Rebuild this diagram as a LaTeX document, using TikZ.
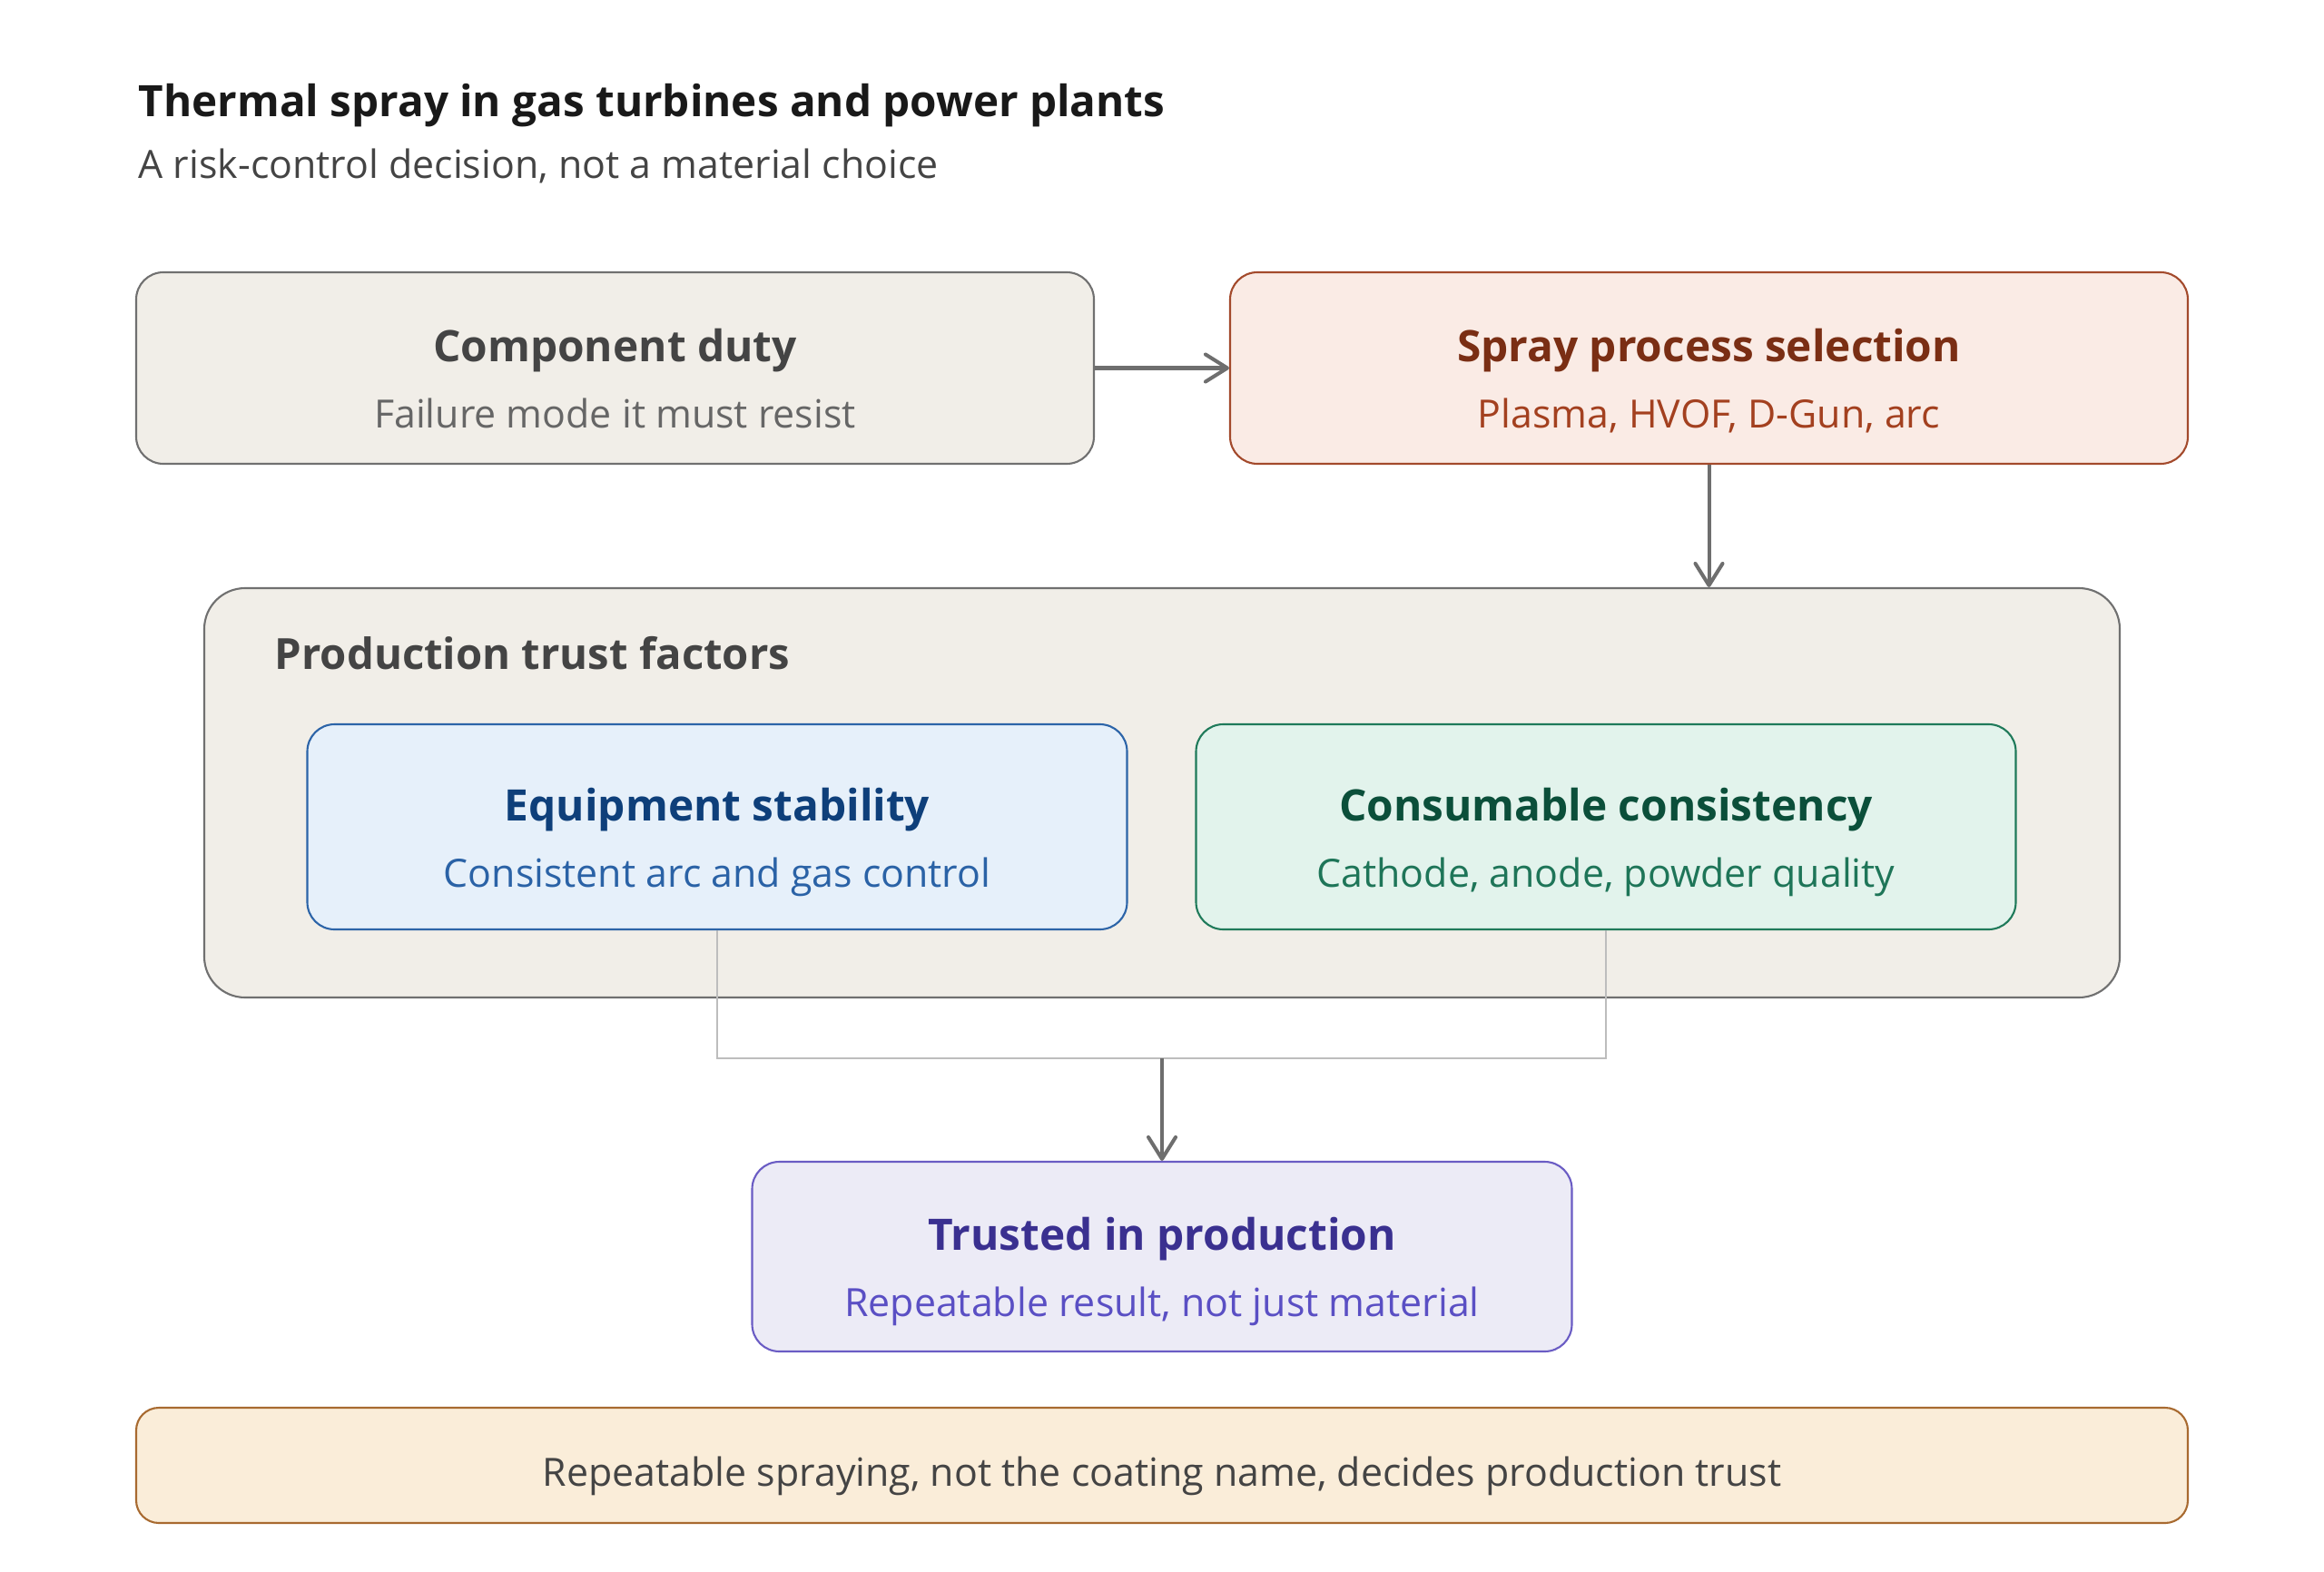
\documentclass[tikz,border=0pt]{standalone}
\usepackage{fontspec}
\setmainfont{Open Sans}
\newcommand\semib{\bfseries}
\usepackage{xcolor}
\usetikzlibrary{shapes,arrows.meta,positioning,calc}

\definecolor{dutyfill}{HTML}{F1EEE8}
\definecolor{dutydraw}{HTML}{707070}
\definecolor{dutytext}{HTML}{444444}
\definecolor{dutysub}{HTML}{666666}
\definecolor{sprayfill}{HTML}{FAEBE5}
\definecolor{spraydraw}{HTML}{A34A2C}
\definecolor{spraytext}{HTML}{7A2E14}
\definecolor{spraysub}{HTML}{A3401F}
\definecolor{equipfill}{HTML}{E6F0FA}
\definecolor{equipdraw}{HTML}{2C64A8}
\definecolor{equiptext}{HTML}{0E3F7A}
\definecolor{equipsub}{HTML}{2A62A6}
\definecolor{consfill}{HTML}{E2F3EC}
\definecolor{consdraw}{HTML}{1F7A5A}
\definecolor{constext}{HTML}{0B4F3A}
\definecolor{conssub}{HTML}{1E7558}
\definecolor{trustfill}{HTML}{ECEBF6}
\definecolor{trustdraw}{HTML}{6A5CC4}
\definecolor{trusttext}{HTML}{3A3090}
\definecolor{trustsub}{HTML}{5A4FC4}
\definecolor{bannerfill}{HTML}{FAEDD9}
\definecolor{bannerdraw}{HTML}{A86A30}
\definecolor{linkgray}{HTML}{6E6E6E}
\definecolor{joingray}{HTML}{BDBDBD}

% heading + sub line of a card, with fixed top/bottom struts
\newcommand\cardtext[4]{%
  \rule{0pt}{7.93mm}{\semib\fontsize{13.6}{18}\selectfont\color{#3}#1}\\[2.55mm]
  {\fontsize{12.2}{15}\selectfont\color{#4}#2}\rule[-2mm]{0pt}{2mm}}

\begin{document}
\begin{tikzpicture}[
  card/.style={rectangle, rounded corners=3mm, line width=0.6pt, align=center,
               minimum width=10.55cm, minimum height=2.11cm, inner sep=0pt},
  factor/.style={card, minimum width=9.03cm, minimum height=2.26cm},
  group/.style={rectangle, rounded corners=4.5mm, line width=0.6pt,
                draw=dutydraw, fill=dutyfill, minimum width=21.1cm,
                minimum height=4.51cm},
  head/.style={font=\semib\fontsize{13.45}{18}\selectfont},
  sub/.style={font=\fontsize{12.2}{15}\selectfont},
  edge/.style={draw=linkgray, line width=1.15pt,
               -{Straight Barb[length=2.4mm, width=3.0mm, round]}},
  mergeline/.style={draw=joingray, line width=0.45pt},
]
  \useasboundingbox (0,0) rectangle (25.6,-17.32);

  % Column x-coordinates
  \def\xleft{6.775}
  \def\xright{18.825}
  \def\xmid{12.8}

  % Title block
  \node[anchor=west, inner sep=0pt, font=\semib\fontsize{13.55}{17}\selectfont,
        text=black!90] (title) at (1.52,-1.16)
       {Thermal spray in gas turbines and power plants};
  \node[anchor=west, inner sep=0pt, font=\fontsize{12.2}{15}\selectfont,
        text=dutytext] (subtitle) at (1.52,-1.83)
       {A risk-control decision, not a material choice};

  % Top row
  \node[card, fill=dutyfill, draw=dutydraw] (duty) at (\xleft,-4.055)
       {\cardtext{Component duty}{Failure mode it must resist}{dutytext}{dutysub}};
  \node[card, fill=sprayfill, draw=spraydraw] (spray) at (\xright,-4.055)
       {\cardtext{Spray process selection}{Plasma, HVOF, D-Gun, arc}{spraytext}{spraysub}};

  % Trust factors group
  \node[group] (factors) at (\xmid,-8.735) {};
  \node[anchor=west, inner sep=0pt, head, text=dutytext] (factorlabel) at (3.02,-7.2)
       {Production trust factors};
  \node[factor, fill=equipfill, draw=equipdraw] (equip) at (7.90,-9.11)
       {\cardtext{Equipment stability}{Consistent arc and gas control}{equiptext}{equipsub}};
  \node[factor, fill=consfill, draw=consdraw] (cons) at (17.69,-9.11)
       {\cardtext{Consumable consistency}{Cathode, anode, powder quality}{constext}{conssub}};

  % Outcome
  \node[card, fill=trustfill, draw=trustdraw, minimum width=9.03cm,
        minimum height=2.09cm] (trusted) at (\xmid,-13.845)
       {\cardtext{Trusted in production}{Repeatable result, not just material}{trusttext}{trustsub}};

  % Bottom banner
  \node[card, fill=bannerfill, draw=bannerdraw, minimum width=22.6cm,
        minimum height=1.27cm, rounded corners=2.5mm, sub, text=dutytext,
        text height=5.6mm, text depth=1mm]
       (banner) at (\xmid,-16.145)
       {Repeatable spraying, not the coating name, decides production trust};

  % Flow arrows
  \draw[edge] (duty.east) -- (spray.west);
  \draw[edge] (spray.south) -- (spray.south |- factors.north);

  % Join the two factors, then down to outcome
  \coordinate (merge) at (\xmid,-11.66);
  \draw[mergeline] (equip.south) |- (merge);
  \draw[mergeline] (cons.south) |- (merge);
  \draw[edge] (merge) -- (trusted.north);

\end{tikzpicture}
\end{document}
